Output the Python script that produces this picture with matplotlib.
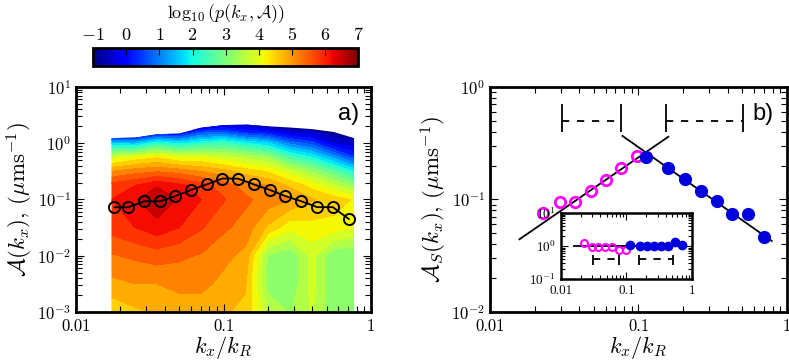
import numpy as np
import matplotlib
matplotlib.use("Agg")
import matplotlib.pyplot as plt
from matplotlib.patches import Polygon
from matplotlib.colors import Normalize
from matplotlib.cm import ScalarMappable
import matplotlib.ticker as mticker

plt.rcParams['font.family'] = 'serif'
plt.rcParams['font.serif'] = ['cmr10']
plt.rcParams['mathtext.fontset'] = 'cm'
plt.rcParams['axes.formatter.use_mathtext'] = True
plt.rcParams['axes.unicode_minus'] = False

# --- panel a): joint pdf of amplitude vs wavenumber (log10 values read off the map)
kx_grid = [0.0174, 0.0251, 0.0355, 0.0501, 0.0708, 0.1, 0.141, 0.2, 0.282, 0.398, 0.562, 0.767]
amp_grid = [1e-3, 3.16e-3, 1e-2, 3.16e-2, 0.1, 0.178, 0.316, 0.562, 1.0, 1.585, 2.51]
logp = np.array([
    [4.4, 4.6, 4.7, 4.8, 4.8, 4.7, 4.6, 3.6, 3.3, 3.7, 3.05, 3.05],
    [4.9, 5.0, 5.0, 5.1, 5.1, 4.9, 4.7, 3.2, 3.05, 3.8, 3.05, 3.05],
    [5.3, 5.4, 5.5, 5.4, 5.3, 5.1, 4.9, 3.3, 3.05, 3.8, 3.05, 3.05],
    [5.8, 6.0, 6.2, 6.0, 5.7, 5.4, 5.2, 4.6, 4.1, 4.2, 4.2, 4.0],
    [6.0, 6.3, 6.6, 6.3, 6.0, 5.7, 5.4, 5.2, 5.0, 4.7, 4.5, 4.3],
    [5.8, 6.0, 6.3, 6.1, 5.8, 5.5, 5.2, 5.0, 4.6, 4.2, 3.7, 3.2],
    [5.0, 5.2, 5.3, 5.2, 5.0, 4.8, 4.5, 4.3, 3.8, 3.3, 2.7, 2.0],
    [3.8, 4.1, 4.3, 4.0, 4.0, 3.8, 3.6, 3.3, 2.5, 2.0, 1.2, 0.4],
    [1.6, 1.5, 2.2, 1.9, 2.2, 2.4, 2.0, 1.7, 0.9, 0.5, -0.4, -0.6],
    [-1.0, -1.0, -0.3, -0.3, 0.5, 0.6, 0.2, 0.0, -0.5, -0.6, -0.9, -0.9],
    [-2.0, -2.0, -2.0, -2.0, -2.0, -1.0, -1.0, -1.5, -1.5, -1.5, -1.5, -1.5],
])
amp_top = [1.23, 1.26, 1.45, 1.48, 1.9, 2.1, 2.15, 2.0, 1.9, 1.78, 1.58, 1.23]

kx_a = [0.0182, 0.0226, 0.0291, 0.0372, 0.0472, 0.0604, 0.0773, 0.0982,
        0.1253, 0.160, 0.2056, 0.262, 0.337, 0.431, 0.551, 0.706]
amp_a = [0.0726, 0.0726, 0.093, 0.093, 0.115, 0.148, 0.186, 0.235,
         0.235, 0.186, 0.148, 0.115, 0.093, 0.073, 0.073, 0.045]

# --- panel b): scaled amplitude, two ranges with power-law fits
kx_low = [0.0227, 0.0294, 0.0372, 0.0477, 0.0608, 0.0767, 0.0984]
as_low = [0.0754, 0.094, 0.094, 0.119, 0.149, 0.189, 0.244]
kx_high = [0.112, 0.159, 0.205, 0.263, 0.336, 0.425, 0.55, 0.697]
as_high = [0.24, 0.189, 0.151, 0.119, 0.097, 0.075, 0.075, 0.0467]
fit_low_k = [0.0158, 0.159]
fit_low_a = [0.0443, 0.361]
fit_high_k = [0.078, 0.79]
fit_high_a = [0.367, 0.0428]
range_low = [0.0306, 0.0767]
range_high = [0.153, 0.505]

# inset: data divided by the fit
ratio_low = [1.21, 0.91, 0.91, 0.91, 0.955, 0.76, 0.76]
ratio_high = [1.07, 1.02, 1.02, 1.02, 1.02, 1.02, 1.35, 1.07]

fig = plt.figure(figsize=(7.89, 3.63), dpi=100)


def style_axes(ax, size=12, lw=2.0, maj=6, mino=4, xpad=5):
    ax.tick_params(which='both', direction='in', top=True, right=True, labelsize=size, width=0.8)
    ax.tick_params(which='major', length=maj)
    ax.tick_params(which='minor', length=mino)
    ax.tick_params(axis='x', pad=xpad)
    for s in ax.spines.values():
        s.set_linewidth(lw)
    ax.xaxis.set_minor_formatter(mticker.NullFormatter())
    ax.yaxis.set_minor_formatter(mticker.NullFormatter())


# ---------------- panel a
rect_a = [0.0963, 0.1405, 0.374, 0.62]
ax_bg = fig.add_axes(rect_a, zorder=0)
ax_bg.set_xlim(-2, 0)
ax_bg.set_ylim(-3, 1)
ax_bg.axis('off')
levels = np.linspace(-1, 7, 25)
cs = ax_bg.contourf(np.log10(kx_grid), np.log10(amp_grid), logp, levels=levels, cmap='jet')
verts = [(np.log10(kx_grid[0]), -3)] + list(zip(np.log10(kx_grid), np.log10(amp_top))) + \
        [(np.log10(kx_grid[-1]), -3)]
clip = Polygon(verts, closed=True, transform=ax_bg.transData, facecolor='none', edgecolor='none')
ax_bg.add_patch(clip)
cs.set_clip_path(clip)

ax = fig.add_axes(rect_a, zorder=1)
ax.set_facecolor('none')
ax.set_xscale('log')
ax.set_yscale('log')
ax.plot(kx_a, amp_a, '-o', color='k', mfc='none', mec='k', ms=8, mew=1.4, lw=1.3)
ax.set_xlim(0.01, 1)
ax.set_ylim(1e-3, 10)
ax.set_xticks([0.01, 0.1, 1])
ax.set_xticklabels(['0.01', '0.1', '1'])
style_axes(ax)
ax.set_xlabel(r'$k_x/k_R$', fontsize=16, labelpad=0)
ax.set_ylabel(r'$\mathcal{A}(k_x)$, $(\mu\mathrm{ms}^{-1})$', fontsize=16.5, labelpad=2)
ax.text(0.925, 0.88, 'a)', transform=ax.transAxes, ha='center', va='center',
        fontsize=17, family='Liberation Sans')

cax = fig.add_axes([0.118, 0.818, 0.336, 0.05])
sm = ScalarMappable(norm=Normalize(-1, 7), cmap='jet')
cb = fig.colorbar(sm, cax=cax, orientation='horizontal', ticks=range(-1, 8))
cax.xaxis.set_ticks_position('top')
cax.xaxis.set_label_position('top')
cax.tick_params(direction='in', length=5, width=0.8, labelsize=13, color='k')
cb.outline.set_linewidth(2)
cb.set_label(r'$\log_{10}(p(k_x,\mathcal{A}))$', fontsize=13, labelpad=6)

# ---------------- panel b
ax2 = fig.add_axes([0.621, 0.1405, 0.3764, 0.62])
ax2.set_xscale('log')
ax2.set_yscale('log')
ax2.plot(fit_low_k, fit_low_a, '-', color='k', lw=1.3)
ax2.plot(fit_high_k, fit_high_a, '-', color='k', lw=1.3)
ax2.plot(kx_low, as_low, 'o', mfc='none', mec='magenta', ms=7.5, mew=2)
ax2.plot(kx_high, as_high, 'o', mfc='#0000dd', mec='#0000dd', ms=8.5)
for rng in (range_low, range_high):
    ax2.plot(rng, [0.5, 0.5], color='k', lw=1.3, ls=(0, (4, 4.3)))
    ax2.vlines(rng, 0.4, 0.7, color='k', lw=1.3)
ax2.set_xlim(0.01, 1)
ax2.set_ylim(0.01, 1)
ax2.set_xticks([0.01, 0.1, 1])
ax2.set_xticklabels(['0.01', '0.1', '1'])
style_axes(ax2)
ax2.set_xlabel(r'$k_x/k_R$', fontsize=16, labelpad=0)
ax2.set_ylabel(r'$\mathcal{A}_S(k_x)$, $(\mu\mathrm{ms}^{-1})$', fontsize=16.5, labelpad=2)
ax2.text(0.919, 0.88, 'b)', transform=ax2.transAxes, ha='center', va='center',
         fontsize=17, family='Liberation Sans')

# inset
axi = fig.add_axes([0.711, 0.2314, 0.166, 0.1818])
axi.set_xscale('log')
axi.set_yscale('log')
axi.plot(fit_low_k, [1, 1], '-', color='k', lw=1.3)
axi.plot(fit_high_k, [1, 1], '-', color='k', lw=1.3)
axi.plot(kx_low, ratio_low, 'o', mfc='none', mec='magenta', ms=5, mew=1.5)
axi.plot(kx_high, ratio_high, 'o', mfc='#0000dd', mec='#0000dd', ms=6)
for rng in (range_low, range_high):
    axi.plot(rng, [0.4, 0.4], color='k', lw=1.3, ls=(0, (4, 4)))
    axi.vlines(rng, 0.26, 0.54, color='k', lw=1.3)
axi.set_xlim(0.01, 1)
axi.set_ylim(0.1, 10)
axi.set_xticks([0.01, 0.1, 1])
axi.set_xticklabels(['0.01', '0.1', '1'])
style_axes(axi, size=9.5, lw=1.8, maj=5, mino=3, xpad=4)

fig.savefig('out.png', dpi=100)
